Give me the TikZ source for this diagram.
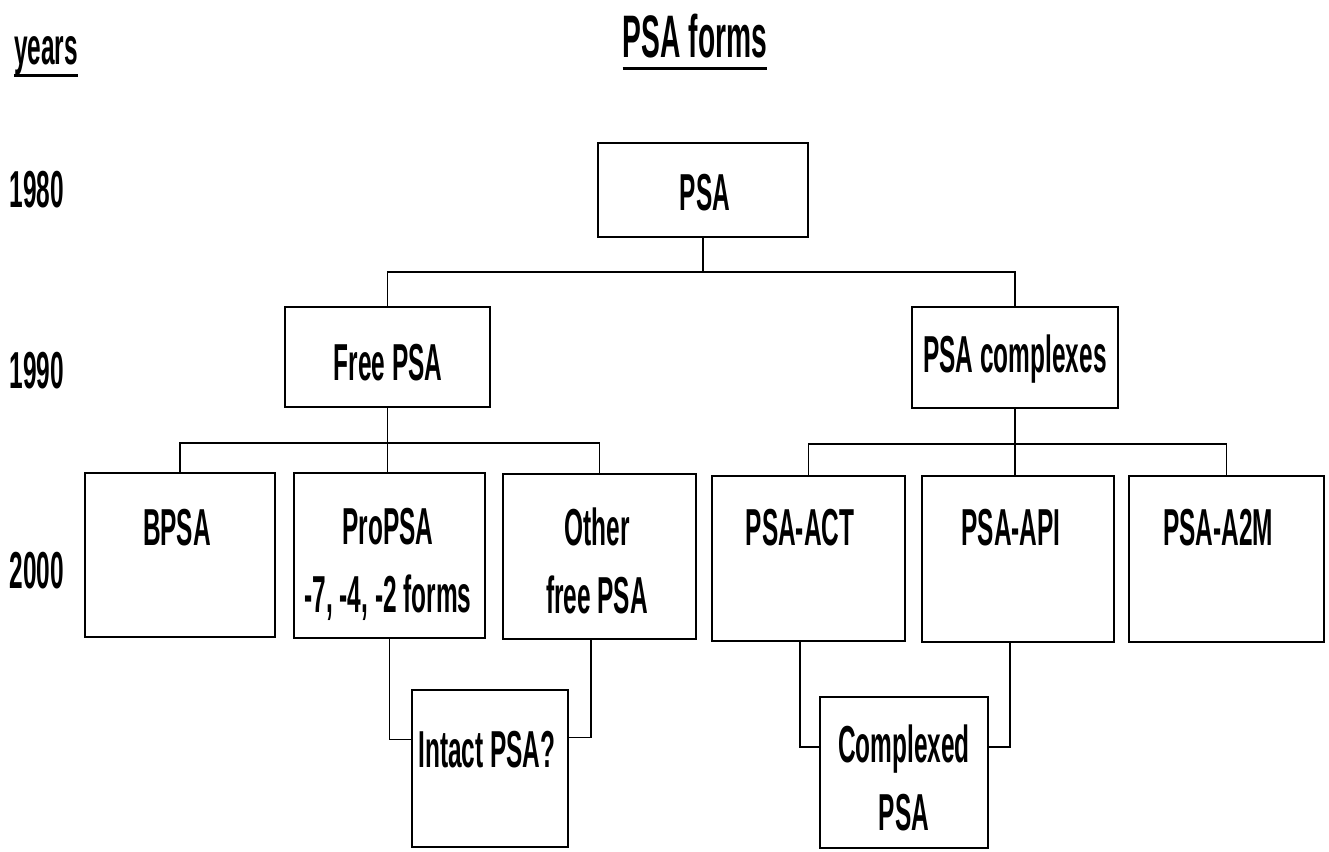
\documentclass[tikz,border=0pt]{standalone}
\usepackage{fontspec}
\setmainfont{Liberation Sans}[FakeStretch=0.47]
\begin{document}
\begin{tikzpicture}[x=1pt,y=-1pt,
  box/.style={draw=black, line width=2.2pt, inner sep=0pt},
  conn/.style={draw=black, line width=1.8pt},
  lbl/.style={font=\bfseries\fontsize{52}{68}\selectfont, inner sep=0pt, align=center},
  ttl/.style={font=\bfseries\fontsize{60}{64}\selectfont, inner sep=0pt},
  uline/.style={draw=black, line width=3pt}]
\useasboundingbox[fill=white] (0,0) rectangle (1329,851);

% headings
\node[lbl, anchor=base] (years) at (46,64) {years};
\draw[uline] ([yshift=-11pt]years.base west) -- ([yshift=-11pt]years.base east);
\node[ttl, anchor=base] (forms) at (695,58) {PSA forms};
\draw[uline] ([yshift=-10pt]forms.base west) -- ([yshift=-10pt]forms.base east);

\node[lbl, anchor=base] (y80) at (37,207) {1980};
\node[lbl, anchor=base] (y90) at (37,388) {1990};
\node[lbl, anchor=base] (y00) at (37,588) {2000};

% boxes
\node[box, minimum width=210pt, minimum height=94pt] (psa) at (703,190) {};
\node[box, minimum width=205pt, minimum height=100pt] (free) at (387.5,357) {};
\node[box, minimum width=206pt, minimum height=101pt] (cplx) at (1015,357.5) {};
\node[box, minimum width=190pt, minimum height=164pt] (bpsa) at (180,555) {};
\node[box, minimum width=191pt, minimum height=165pt] (pro) at (389.5,555.5) {};
\node[box, minimum width=193pt, minimum height=165pt] (other) at (599.5,556.5) {};
\node[box, minimum width=193pt, minimum height=165pt] (act) at (808.5,558.5) {};
\node[box, minimum width=192pt, minimum height=166pt] (api) at (1018,559) {};
\node[box, minimum width=195pt, minimum height=166pt] (a2m) at (1226.5,559) {};
\node[box, minimum width=156pt, minimum height=157pt] (intact) at (490,768.5) {};
\node[box, minimum width=168pt, minimum height=151pt] (cpsa) at (904,772.5) {};

% texts
\node[lbl, anchor=base] (tpsa) at (705,210) {PSA};
\node[lbl, anchor=base] (tfree) at (388,380) {Free PSA};
\node[lbl, anchor=base] (tcplx) at (1015,372) {PSA complexes};
\node[lbl, anchor=base] (tbpsa) at (177,545) {BPSA};
\node[lbl, anchor=north] (tpro) at (388,508) {ProPSA\\-7, -4, -2 forms};
\node[lbl, anchor=north] (tother) at (597,508) {Other\\free PSA};
\node[lbl, anchor=base] (tact) at (800,545) {PSA-ACT};
\node[lbl, anchor=base] (tapi) at (1011,545) {PSA-API};
\node[lbl, anchor=base] (ta2m) at (1218,545) {PSA-A2M};
\node[lbl, anchor=base] (tintact) at (487,767) {Intact PSA?};
\node[lbl, anchor=north] (tcpsa) at (904,725) {Complexed\\PSA};

% connectors
\draw[conn] (psa.south) -- ++(0,34) coordinate (j1);
\draw[conn] (free.north) |- (j1) -| (cplx.north);
\draw[conn] (free.south) -- ++(0,35) coordinate (j2);
\draw[conn] (bpsa.north) |- (j2) -| (other.north);
\draw[conn] (j2) -- (j2 |- pro.north);
\draw[conn] (cplx.south) -- ++(0,35) coordinate (j3);
\draw[conn] (act.north) |- (j3) -| (a2m.north);
\draw[conn] (j3) -- (j3 |- api.north);
\draw[conn] (pro.south) |- ([yshift=29pt]intact.west);
\draw[conn] ([xshift=-8.5pt]other.south) |- ([yshift=31pt]intact.east);
\draw[conn] ([xshift=-8.5pt]act.south) |- ([yshift=25.5pt]cpsa.west);
\draw[conn] ([xshift=-8pt]api.south) |- ([yshift=25.5pt]cpsa.east);
\end{tikzpicture}
\end{document}
